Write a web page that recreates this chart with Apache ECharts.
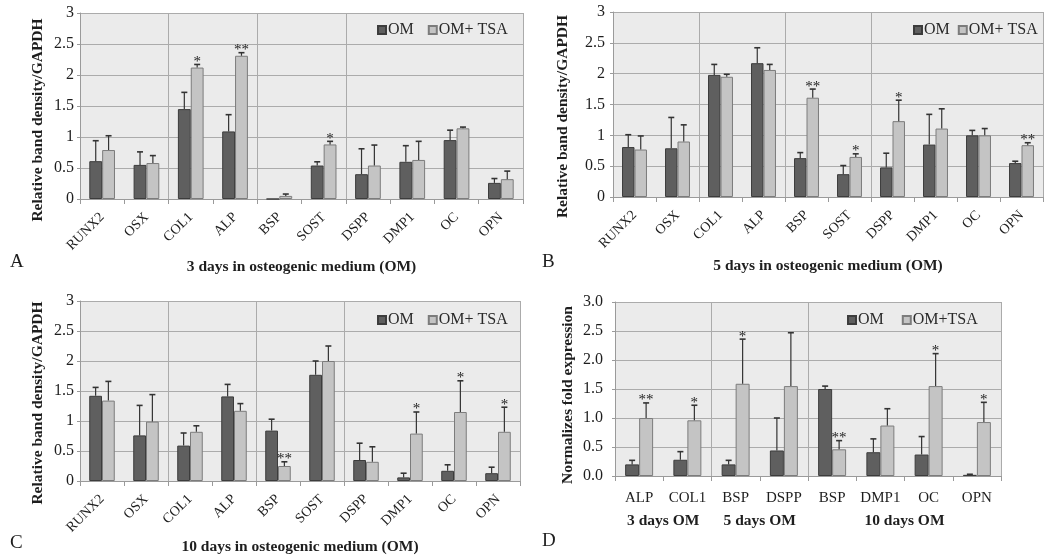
<!DOCTYPE html>
<html><head><meta charset="utf-8">
<script src="https://cdn.jsdelivr.net/npm/echarts@6/dist/echarts.min.js"></script>
<style>html,body{margin:0;padding:0;background:#fff}#c{width:1044px;height:559px}</style>
</head><body><div id="c"></div>
<script>
// ---------- data ----------
const genesABC = ['RUNX2','OSX','COL1','ALP','BSP','SOST','DSPP','DMP1','OC','OPN'];
const genesD = ['ALP','COL1','BSP','DSPP','BSP','DMP1','OC','OPN'];
const groupsD = ['3 days OM','5 days OM','10 days OM'];
const groupPosD = [1, 3, 6];
const yTicksABC = ['0','0.5','1','1.5','2','2.5','3'];
const yTicksD = ['0.0','0.5','1.0','1.5','2.0','2.5','3.0'];

const A_om     = [0.61,0.55,1.45,1.09,0.00,0.54,0.40,0.60,0.95,0.26];
const A_omErr  = [0.33,0.21,0.27,0.27,0.00,0.06,0.41,0.26,0.16,0.07];
const A_tsa    = [0.79,0.58,2.12,2.31,0.05,0.88,0.54,0.63,1.14,0.32];
const A_tsaErr = [0.23,0.12,0.05,0.05,0.03,0.05,0.33,0.30,0.02,0.13];
const A_sig    = ['','','*','**','','*','','','',''];

const B_om     = [0.81,0.79,1.98,2.17,0.63,0.37,0.48,0.85,1.00,0.55];
const B_omErr  = [0.20,0.50,0.17,0.25,0.09,0.14,0.23,0.49,0.08,0.03];
const B_tsa    = [0.77,0.90,1.95,2.06,1.61,0.65,1.23,1.11,1.00,0.84];
const B_tsaErr = [0.22,0.27,0.04,0.09,0.14,0.05,0.34,0.32,0.11,0.04];
const B_sig    = ['','','','','**','*','*','','','**'];

const C_om     = [1.42,0.76,0.59,1.41,0.84,1.77,0.35,0.06,0.17,0.13];
const C_omErr  = [0.14,0.50,0.21,0.20,0.19,0.23,0.28,0.07,0.10,0.10];
const C_tsa    = [1.34,0.99,0.82,1.17,0.25,2.00,0.32,0.79,1.15,0.82];
const C_tsaErr = [0.32,0.45,0.10,0.12,0.07,0.25,0.25,0.36,0.52,0.41];
const C_sig    = ['','','','','**','','','*','*','*'];

const D_om     = [0.20,0.28,0.20,0.44,1.50,0.41,0.37,0.02];
const D_omErr  = [0.07,0.14,0.07,0.56,0.05,0.23,0.31,0.01];
const D_tsa    = [1.00,0.96,1.59,1.55,0.46,0.87,1.55,0.93];
const D_tsaErr = [0.26,0.26,0.77,0.92,0.15,0.29,0.56,0.34];
const D_sig    = ['**','*','*','','**','','*','*'];

// ---------- styling ----------
const FONT = "'Liberation Serif', 'Times New Roman', serif";
const TXT = '#1e1e1e';
const OM_STYLE = {color:'#5f5f5f', borderColor:'#3c3c3c', borderWidth:1};
const TSA_STYLE = {color:'#c4c4c4', borderColor:'#7c7c7c', borderWidth:1};
const GRID_LINE = '#ababab';

const panels = [
  {grid:{left:80, right:521, top:13, bottom:360}, cats:genesABC, om:A_om, omErr:A_omErr, tsa:A_tsa, tsaErr:A_tsaErr, sig:A_sig,
   tsaName:'OM+ TSA', xName:'3 days in osteogenic medium (OM)', yName:'Relative band density/GAPDH', yTicks:yTicksABC,
   yGap:34, yShift:28, xGap:60, legend:{left:377, top:22, gap:14}, splits:[2,4,6], rotate:true, letter:['A',10,253], labelMargin:6},
  {grid:{left:613, right:1, top:12, bottom:362}, cats:genesABC, om:B_om, omErr:B_omErr, tsa:B_tsa, tsaErr:B_tsaErr, sig:B_sig,
   tsaName:'OM+ TSA', xName:'5 days in osteogenic medium (OM)', yName:'Relative band density/GAPDH', yTicks:yTicksABC,
   yGap:42, yShift:24, xGap:61, legend:{left:913, top:22, gap:8}, splits:[2,4,6], rotate:true, letter:['B',542,253], labelMargin:8},
  {grid:{left:80, right:524, top:301, bottom:78}, cats:genesABC, om:C_om, omErr:C_omErr, tsa:C_tsa, tsaErr:C_tsaErr, sig:C_sig,
   tsaName:'OM+ TSA', xName:'10 days in osteogenic medium (OM)', yName:'Relative band density/GAPDH', yTicks:yTicksABC,
   yGap:34, yShift:24, xGap:58, legend:{left:377, top:312, gap:14}, splits:[2,4,6], rotate:true, letter:['C',10,534], labelMargin:6},
  {grid:{left:615, right:43, top:302, bottom:83}, cats:genesD, om:D_om, omErr:D_omErr, tsa:D_tsa, tsaErr:D_tsaErr, sig:D_sig,
   tsaName:'OM+TSA', xName:'', yName:'Normalizes fold expression', yTicks:yTicksD,
   yGap:39, yShift:12, xGap:0, legend:{left:847, top:312, gap:18}, splits:[2,4], rotate:false, letter:['D',542,532], labelMargin:12}
];

function errRenderer(errArr, sigArr, side) {
  return function (params, api) {
    const idx = api.value(0), v = api.value(1);
    const e = errArr[params.dataIndex];
    const band = api.size([1, 0])[0];
    const base = api.coord([idx, v]);
    const cx = base[0] + side * band * 0.145;
    const children = [];
    let topY = base[1];
    if (e > 0) {
      const top = api.coord([idx, v + e]);
      topY = top[1];
      children.push({type:'line', shape:{x1:cx, y1:base[1], x2:cx, y2:topY}, style:{stroke:'#333', lineWidth:1.2}});
      children.push({type:'line', shape:{x1:cx-3, y1:topY, x2:cx+3, y2:topY}, style:{stroke:'#333', lineWidth:1.6}});
    }
    const s = sigArr ? sigArr[params.dataIndex] : '';
    if (s) {
      children.push({type:'text', style:{text:s, x:cx, y:topY + 5, align:'center', verticalAlign:'bottom',
        font:'15px ' + FONT, fill:'#222'}});
    }
    return {type:'group', children};
  };
}

const option = {backgroundColor:'#fff', animation:false, grid:[], xAxis:[], yAxis:[], series:[], legend:[], graphic:[]};

panels.forEach((p, gi) => {
  option.grid.push(Object.assign({show:true, backgroundColor:'#ebebeb', borderWidth:0, containLabel:false,
    outerBoundsMode:'none'}, p.grid));
  const splitSet = p.splits;
  option.xAxis.push({
    type:'category', gridIndex:gi, data:p.cats, position:'bottom',
    name:p.xName, nameLocation:'middle', nameGap:p.xGap,
    nameTextStyle:{fontFamily:FONT, fontWeight:'bold', fontSize:15.5, color:TXT},
    axisLine:{show:true, lineStyle:{color:'#9a9a9a', width:1}},
    axisTick:{show:true, length:5, lineStyle:{color:'#9a9a9a'}},
    axisLabel:{interval:0, rotate:p.rotate ? 45 : 0, margin:p.rotate ? 16 : 15, fontFamily:FONT, fontSize:p.rotate ? 14 : 15, color:TXT},
    splitLine:{show:true, interval:function (i) { return splitSet.indexOf(i) >= 0; }, lineStyle:{color:GRID_LINE, width:1}}
  });
  option.yAxis.push({
    type:'value', gridIndex:gi, min:0, max:3, interval:0.5,
    name:p.yName, nameLocation:'middle', nameGap:p.yGap,
    nameTextStyle:{fontFamily:FONT, fontWeight:'bold', fontSize:15.5, color:TXT, padding:[0,p.yShift,0,0]},
    axisLine:{show:true, lineStyle:{color:'#9a9a9a'}},
    axisTick:{show:true, length:3, lineStyle:{color:'#9a9a9a'}},
    axisLabel:{margin:p.labelMargin, fontFamily:FONT, fontSize:16, color:TXT,
      formatter:(v) => p.yTicks[Math.round(v / 0.5)]},
    splitLine:{show:true, lineStyle:{color:GRID_LINE, width:1.2}}
  });
  const xi = option.xAxis.length - 1;
  option.series.push({name:'OM', type:'bar', xAxisIndex:xi, yAxisIndex:gi, data:p.om, barWidth:'29%', barGap:'0%',
    itemStyle:OM_STYLE, z:2});
  option.series.push({name:p.tsaName, type:'bar', xAxisIndex:xi, yAxisIndex:gi, data:p.tsa, barWidth:'29%', barGap:'0%',
    itemStyle:TSA_STYLE, z:2});
  option.series.push({name:'errOM' + gi, type:'custom', xAxisIndex:xi, yAxisIndex:gi, z:5,
    data:p.om.map((v, i) => [i, v]), encode:{x:0, y:1}, renderItem:errRenderer(p.omErr, null, -1)});
  option.series.push({name:'errTSA' + gi, type:'custom', xAxisIndex:xi, yAxisIndex:gi, z:5,
    data:p.tsa.map((v, i) => [i, v]), encode:{x:0, y:1}, renderItem:errRenderer(p.tsaErr, p.sig, 1)});
  option.legend.push({data:['OM', p.tsaName], left:p.legend.left, top:p.legend.top, orient:'horizontal',
    width:200, padding:0,
    icon:'rect', itemWidth:8, itemHeight:8, itemGap:p.legend.gap, selectedMode:false,
    textStyle:{fontFamily:FONT, fontSize:16, color:'#2a2a2a', padding:[0,0,0,-3]}});
  option.graphic.push({type:'text', left:p.letter[1], top:p.letter[2],
    style:{text:p.letter[0], font:'19px ' + FONT, fill:TXT}});
});

// group labels for panel D via a second (value) x axis in the same grid
option.xAxis.push({
  type:'value', gridIndex:3, min:0, max:8, position:'bottom', offset:29,
  axisLine:{show:false}, axisTick:{show:false}, splitLine:{show:false},
  axisLabel:{customValues:groupPosD, fontFamily:FONT, fontSize:15.5, fontWeight:'bold', color:TXT,
    formatter:(v) => groupsD[groupPosD.indexOf(v)]}
});

const chart = echarts.init(document.getElementById('c'));
chart.setOption(option);
</script></body></html>
